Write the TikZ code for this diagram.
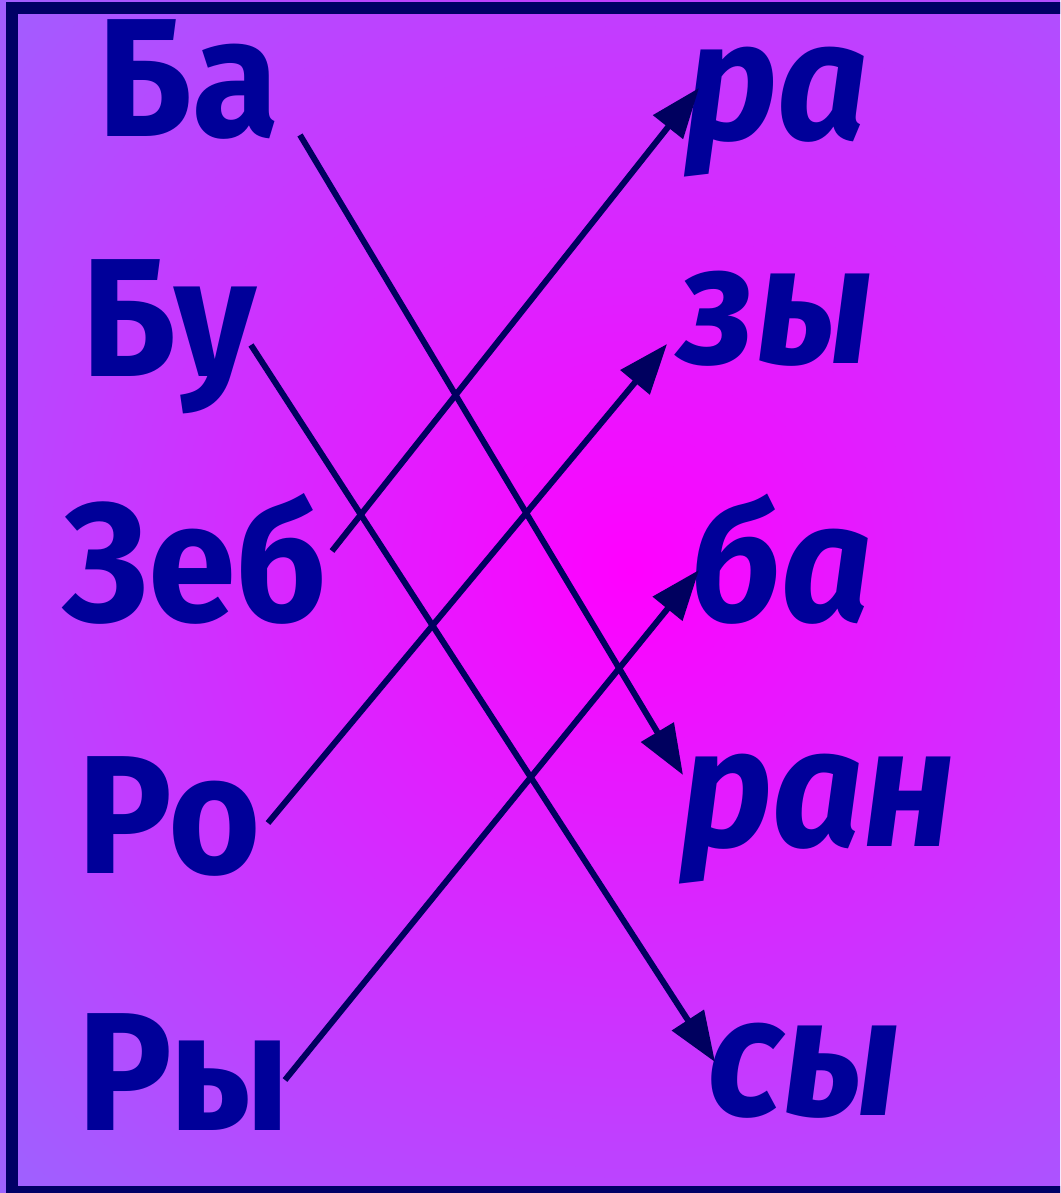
\documentclass[tikz,border=0pt]{standalone}
\usepackage{fontspec}
\setmainfont[FakeStretch=0.94]{Fira Sans}
\usepackage{xcolor}
\usetikzlibrary{arrows.meta,positioning}
\definecolor{wordblue}{RGB}{0,0,153}
\definecolor{framenavy}{RGB}{0,0,102}
\definecolor{linknavy}{RGB}{0,0,95}
\definecolor{edgeviolet}{RGB}{155,100,255}

\begin{document}
\begin{tikzpicture}[
  lword/.style={inner sep=0pt, anchor=base west, text=wordblue,
                font=\fontsize{48}{50}\selectfont\bfseries},
  rword/.style={lword, font=\fontsize{48}{50}\selectfont\bfseries\itshape},
  link/.style={draw=linknavy, line width=1.7pt,
               -{Triangle[length=5mm,width=3.7mm]}}]
\useasboundingbox (0,0) rectangle (10.6,-11.93);
\begin{scope}
\clip (0,0) rectangle (10.6,-11.93);
\shade[inner color=magenta, outer color=edgeviolet] (6.3,-5.7) circle (9);
\draw[framenavy, line width=0.12cm] (0.12,-0.08) rectangle (10.72,-11.92);
\end{scope}
\node[lword] (ba) at (0.97,-1.37) {Ба};
\node[lword] (bu) at (0.81,-3.77) {Бу};
\node[lword] (zeb) at (0.62,-6.21) {Зеб};
\node[lword] (ro) at (0.77,-8.73) {Ро};
\node[lword] (ry) at (0.77,-11.30) {Ры};
\node[rword] (ra) at (6.85,-1.40) {ра};
\node[rword] (zy) at (6.77,-3.64) {зы};
\node[rword] (bar) at (6.90,-6.21) {ба};
\node[rword] (ran) at (6.80,-8.46) {ран};
\node[rword] (sy) at (7.07,-11.15) {сы};
\draw[link] ([shift={(2.03,0.02)}]ba.base west) -- ([shift={(0.03,0.71)}]ran.base west);
\draw[link] ([shift={(1.70,0.32)}]bu.base west) -- ([shift={(0.08,0.53)}]sy.base west);
\draw[link] ([shift={(2.70,0.70)}]zeb.base west) -- ([shift={(0.14,0.52)}]ra.base west);
\draw[link] ([shift={(1.91,0.50)}]ro.base west) -- ([shift={(-0.10,0.20)}]zy.base west);
\draw[link] ([shift={(2.08,0.50)}]ry.base west) -- ([shift={(0.09,0.51)}]bar.base west);
\end{tikzpicture}
\end{document}
